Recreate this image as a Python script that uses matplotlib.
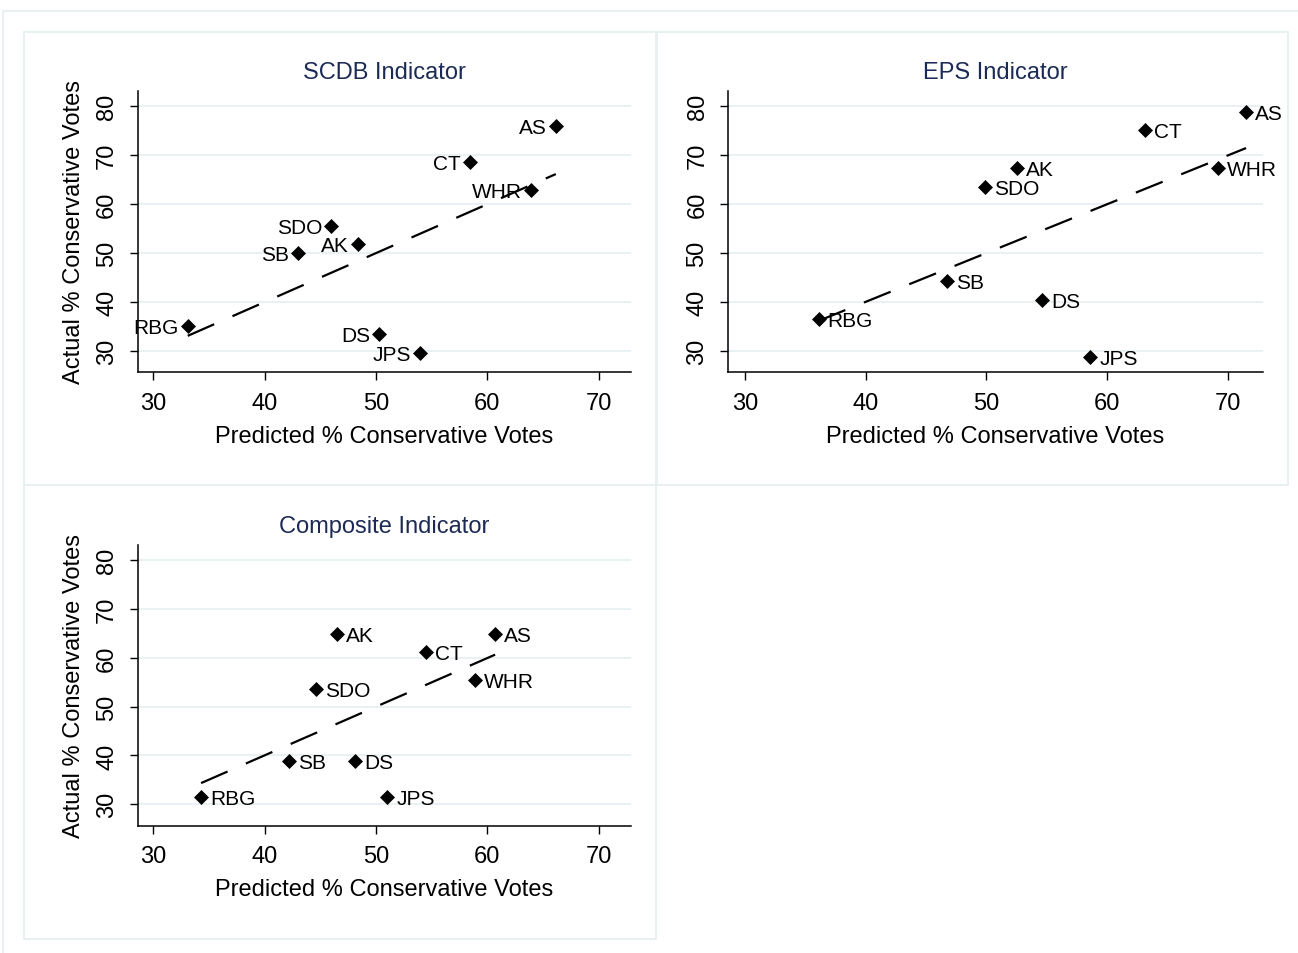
import numpy as np
import matplotlib
matplotlib.use('Agg')
import matplotlib.pyplot as plt
from matplotlib.patches import Rectangle

plt.rcParams['font.family'] = ['Liberation Sans', 'DejaVu Sans']

# justices and their values
justices = ['AS', 'CT', 'WHR', 'SDO', 'AK', 'SB', 'RBG', 'DS', 'JPS']

scdb_pred = [66.15, 58.4, 63.95, 46.0, 48.4, 43.0, 33.1, 50.3, 54.0]
scdb_act = [75.9, 68.5, 62.9, 55.5, 51.8, 50.0, 35.1, 33.4, 29.6]

eps_pred = [71.5, 63.1, 69.2, 49.9, 52.5, 46.75, 36.1, 54.6, 58.6]
eps_act = [78.8, 75.0, 67.3, 63.5, 67.3, 44.3, 36.4, 40.3, 28.8]

comp_pred = [60.7, 54.5, 58.9, 44.6, 46.5, 42.2, 34.3, 48.1, 51.0]
comp_act = [64.8, 61.1, 55.5, 53.6, 64.8, 38.9, 31.5, 38.9, 31.5]

titles = ['SCDB Indicator', 'EPS Indicator', 'Composite Indicator']
xticks = [30, 40, 50, 60, 70]
yticks = [30, 40, 50, 60, 70, 80]

W, H = 1298, 954
grid_col = '#e8f0f2'
title_col = '#1c2b55'

fig = plt.figure(figsize=(W / 100, H / 100), dpi=100)


def px_box(left, top, right, bottom):
    return [left / W, 1 - bottom / H, (right - left) / W, (bottom - top) / H]


def frame(left, top, right, bottom):
    b = px_box(left, top, right, bottom)
    fig.patches.append(Rectangle((b[0], b[1]), b[2], b[3], transform=fig.transFigure,
                                 fill=False, ec=grid_col, lw=1.4, zorder=0))


# outer frame and the three graph regions
frame(3, 11.5, W + 20, H + 20)
frame(23.5, 32.5, 656, 486)
frame(657, 32.5, 1288, 486)
frame(23.5, 486, 656, 940)

panels = [
    (px_box(137.6, 91.7, 631, 373.3), scdb_pred, scdb_act, 'left', True),
    (px_box(728, 91.7, 1263, 373.3), eps_pred, eps_act, 'right', False),
    (px_box(137.6, 546, 631, 826.7), comp_pred, comp_act, 'right', True),
]

for (box, px, py, side, ylab), title in zip(panels, titles):
    ax = fig.add_axes(box)
    px = np.array(px)
    py = np.array(py)

    for v in yticks:
        ax.axhline(v, color=grid_col, lw=1.3, zorder=0)

    # linear fit line across the range of the predictions
    slope, icpt = np.polyfit(px, py, 1)
    xs = np.array([px.min(), px.max()])
    ax.plot(xs, icpt + slope * xs, color='black', lw=1.6, dashes=(13, 9), zorder=2)

    ax.plot(px, py, 'D', color='black', ms=7, mew=0.5, zorder=3)
    for name, x, y in zip(justices, px, py):
        if side == 'left':
            ax.annotate(name, (x, y), xytext=(-6.5, -1), textcoords='offset points',
                        ha='right', va='center', fontsize=15)
        else:
            ax.annotate(name, (x, y), xytext=(6.5, -1), textcoords='offset points',
                        ha='left', va='center', fontsize=15)

    ax.set_xlim(28.6, 72.9)
    ax.set_ylim(25.6, 83.1)
    ax.set_xticks(xticks)
    ax.set_yticks(yticks)
    ax.tick_params(direction='out', length=6, width=1, pad=8, labelsize=17)
    for lab in ax.get_yticklabels():
        lab.set_rotation(90)
        lab.set_va('center')
    for s in ['top', 'right']:
        ax.spines[s].set_visible(False)
    for s in ['left', 'bottom']:
        ax.spines[s].set_linewidth(1.1)

    ax.set_title(title, color=title_col, fontsize=17, pad=9)
    ax.set_xlabel('Predicted % Conservative Votes', fontsize=17, labelpad=8)
    if ylab:
        ax.set_ylabel('Actual % Conservative Votes', fontsize=17, labelpad=8)

fig.savefig('out.png', dpi=100)
